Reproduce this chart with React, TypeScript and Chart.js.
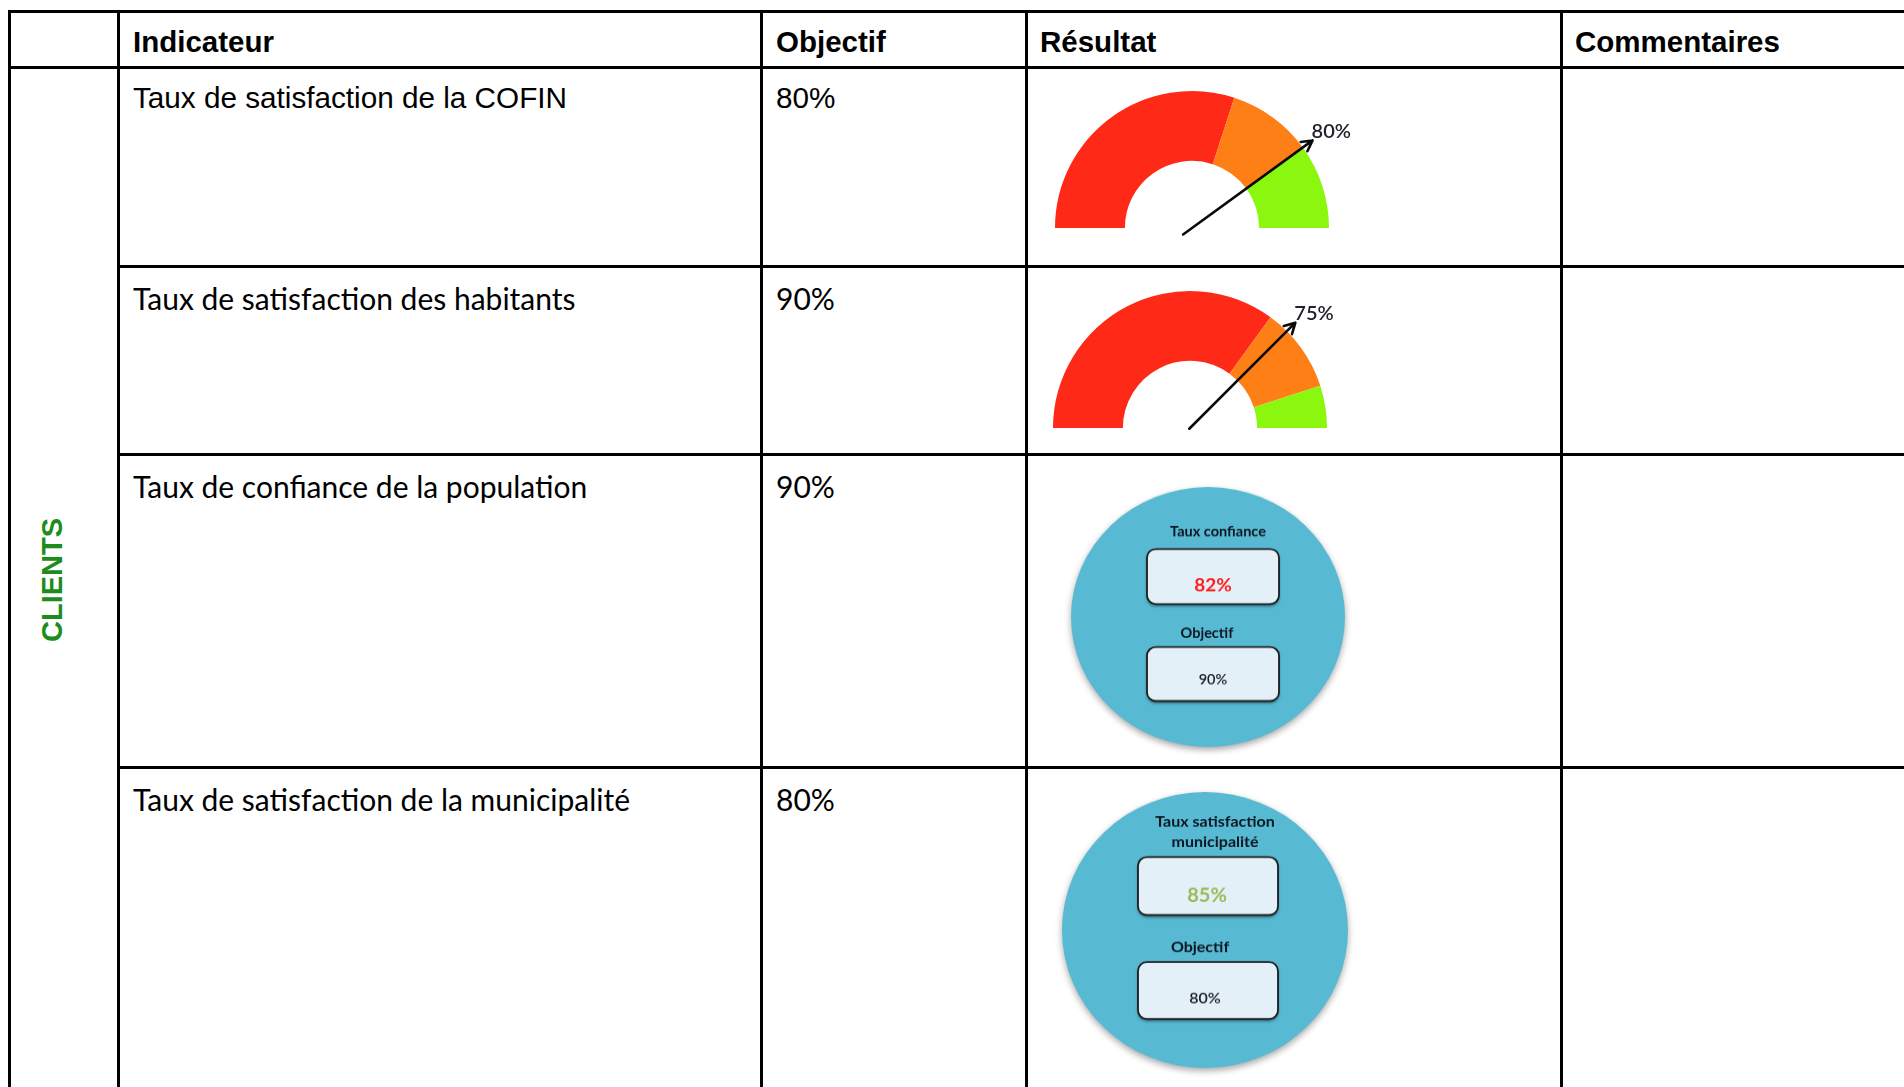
import React, { useEffect, useRef } from "react";
import { Chart, registerables } from "chart.js";

Chart.register(...registerables);

// ---- table content ----
const sectionLabel = "CLIENTS";
const columnHeaders = ["Indicateur", "Objectif", "Résultat", "Commentaires"];
const indicators = [
  "Taux de satisfaction de la COFIN",
  "Taux de satisfaction des habitants",
  "Taux de confiance de la population",
  "Taux de satisfaction de la municipalité",
];
const targets = [80, 90, 90, 80];

// ---- half gauges (rows 1 and 2): zone widths in %, needle value in % ----
const zoneNames = ["Rouge", "Orange", "Vert"];
const zoneColors = ["#fe2917", "#fd7f16", "#8bf60e"];
const gauge1Zones = [60, 20, 20];
const gauge2Zones = [70, 20, 10];
const gaugeResults = [80, 75];

// ---- KPI discs (rows 3 and 4) ----
const kpiTitles = [["Taux confiance"], ["Taux satisfaction", "municipalité"]];
const kpiResults = [82, 85];
const kpiTargets = [90, 80];
const kpiTargetLabel = "Objectif";
const kpiResultColors = ["#ff1d1d", "#9bbb59"];

const ARIAL = '"Liberation Sans", Arial, sans-serif';
const CALIBRI = 'Lato, "Open Sans", sans-serif';

type GaugeProps = { zones: number[]; value: number; cx: number; cy: number; tail: number };

function Gauge({ zones, value, cx, cy, tail }: GaugeProps) {
  const ref = useRef<HTMLCanvasElement | null>(null);
  const W = 380;
  const H = 220;
  const ox = 180;
  const oy = 175;
  const R = 137;

  useEffect(() => {
    const canvas = ref.current;
    if (!canvas) return;
    const needle = {
      id: "needle",
      afterDatasetsDraw(chart: any) {
        const arc = chart.getDatasetMeta(0).data[0];
        const { x, y, outerRadius } = arc.getProps(["x", "y", "outerRadius"], true);
        const total = zones.reduce((s, v) => s + v, 0);
        const a = Math.PI + (value / total) * Math.PI;
        const c = Math.cos(a);
        const s = Math.sin(a);
        const len = outerRadius + 12;
        const tx = x + len * c;
        const ty = y + len * s;
        const ctx = chart.ctx as CanvasRenderingContext2D;
        ctx.save();
        ctx.strokeStyle = "#0a0a0a";
        ctx.lineWidth = 2.6;
        ctx.lineCap = "round";
        ctx.lineJoin = "round";
        ctx.beginPath();
        ctx.moveTo(x - tail * c, y - tail * s);
        ctx.lineTo(tx, ty);
        const h = 12;
        const sp = 0.5;
        ctx.moveTo(tx - h * Math.cos(a - sp), ty - h * Math.sin(a - sp));
        ctx.lineTo(tx, ty);
        ctx.lineTo(tx - h * Math.cos(a + sp), ty - h * Math.sin(a + sp));
        ctx.stroke();
        ctx.font = `600 20px ${CALIBRI}`;
        ctx.fillStyle = "#22222c";
        ctx.textAlign = "left";
        ctx.textBaseline = "middle";
        ctx.fillText(`${value}%`, tx - 1, ty - 9);
        ctx.restore();
      },
    };
    const chart = new Chart(canvas, {
      type: "doughnut",
      data: {
        labels: zoneNames,
        datasets: [
          {
            data: zones,
            backgroundColor: zoneColors,
            borderWidth: 0,
            hoverOffset: 0,
          },
        ],
      },
      options: {
        animation: false,
        responsive: false,
        events: [],
        rotation: -90,
        circumference: 180,
        cutout: "49%",
        layout: { padding: { left: ox - R, right: W - ox - R, top: oy - R, bottom: H - oy } },
        plugins: { legend: { display: false }, tooltip: { enabled: false } },
      } as any,
      plugins: [needle],
    });
    return () => chart.destroy();
  }, []);

  return (
    <canvas
      ref={ref}
      width={W}
      height={H}
      style={{ position: "absolute", left: cx - ox, top: cy - oy, width: W, height: H }}
    />
  );
}

type DiscLayout = {
  titleSize: number;
  titleX: number;
  titleY: number[];
  boxX: [number, number];
  box1Y: [number, number];
  box2Y: [number, number];
  valueSize: number;
  value1: [number, number];
  labelY: number;
  labelX: number;
  value2: [number, number];
  value2Size: number;
};

type DiscProps = { idx: number; cx: number; cy: number; rx: number; ry: number; lay: DiscLayout };

function KpiDisc({ idx, cx, cy, rx, ry, lay }: DiscProps) {
  const ref = useRef<HTMLCanvasElement | null>(null);
  const pad = 14;
  const size = 2 * (rx + pad);
  const k = ry / rx;

  useEffect(() => {
    const canvas = ref.current;
    if (!canvas) return;
    const shadow = {
      id: "discShadow",
      beforeDatasetDraw(chart: any) {
        const ctx = chart.ctx as CanvasRenderingContext2D;
        ctx.save();
        ctx.shadowColor = "rgba(0,0,0,0.35)";
        ctx.shadowBlur = 7;
        ctx.shadowOffsetY = 3;
      },
      afterDatasetDraw(chart: any) {
        chart.ctx.restore();
      },
    };
    const panel = {
      id: "kpiPanel",
      afterDatasetsDraw(chart: any) {
        const arc = chart.getDatasetMeta(0).data[0];
        const { x, y } = arc.getProps(["x", "y"], true);
        const ctx = chart.ctx as CanvasRenderingContext2D;
        const Y = (v: number) => y + v / k;
        const box = (y0: number, y1: number) => {
          const bx = x + lay.boxX[0];
          const bw = lay.boxX[1] - lay.boxX[0];
          const by = Y(y0);
          const bh = (y1 - y0) / k;
          ctx.save();
          ctx.shadowColor = "rgba(0,0,0,0.55)";
          ctx.shadowBlur = 3;
          ctx.shadowOffsetY = 2;
          ctx.beginPath();
          ctx.roundRect(bx, by, bw, bh, 9);
          ctx.fillStyle = "#e3f0f8";
          ctx.fill();
          ctx.restore();
          ctx.beginPath();
          ctx.roundRect(bx, by, bw, bh, 9);
          ctx.lineWidth = 1.8;
          ctx.strokeStyle = "#1c1c1c";
          ctx.stroke();
        };
        ctx.save();
        ctx.textAlign = "center";
        ctx.textBaseline = "middle";
        ctx.fillStyle = "#0c1622";
        ctx.font = `bold ${lay.titleSize}px ${CALIBRI}`;
        kpiTitles[idx].forEach((t, i) => ctx.fillText(t, x + lay.titleX, Y(lay.titleY[i])));
        box(lay.box1Y[0], lay.box1Y[1]);
        box(lay.box2Y[0], lay.box2Y[1]);
        ctx.font = `bold ${lay.valueSize}px ${CALIBRI}`;
        ctx.fillStyle = kpiResultColors[idx];
        ctx.fillText(`${kpiResults[idx]}%`, x + lay.value1[0], Y(lay.value1[1]));
        ctx.fillStyle = "#0c1622";
        ctx.font = `bold ${lay.titleSize}px ${CALIBRI}`;
        ctx.fillText(kpiTargetLabel, x + lay.labelX, Y(lay.labelY));
        ctx.font = `600 ${lay.value2Size}px ${CALIBRI}`;
        ctx.fillStyle = "#1b1b2b";
        ctx.fillText(`${kpiTargets[idx]}%`, x + lay.value2[0], Y(lay.value2[1]));
        ctx.restore();
      },
    };
    const chart = new Chart(canvas, {
      type: "pie",
      data: {
        labels: [kpiTitles[idx].join(" ")],
        datasets: [
          {
            data: [kpiResults[idx]],
            backgroundColor: ["#57b9d2"],
            borderWidth: 0,
            hoverOffset: 0,
          },
        ],
      },
      options: {
        animation: false,
        responsive: false,
        events: [],
        layout: { padding: pad },
        plugins: { legend: { display: false }, tooltip: { enabled: false } },
      } as any,
      plugins: [shadow, panel],
    });
    return () => chart.destroy();
  }, []);

  return (
    <div
      style={{
        position: "absolute",
        left: cx - rx - pad,
        top: cy - size / 2,
        width: size,
        height: size,
        transform: `scaleY(${k})`,
        transformOrigin: "50% 50%",
      }}
    >
      <canvas ref={ref} width={size} height={size} style={{ width: size, height: size, display: "block" }} />
    </div>
  );
}

const LINE = 3;
const vLines = [8, 117, 760, 1025, 1560];
const colText = [133, 776, 1040, 1575];
const rowLineTops = [265, 453, 766];
const rowFonts = [ARIAL, CALIBRI, CALIBRI, CALIBRI];
const rowSizes = [29.7, 30, 30, 30];
const rowTextTops = [82.5, 283, 471, 784];

export default function App() {
  const line = (l: number, t: number, w: number, h: number, key: string) => (
    <div key={key} style={{ position: "absolute", left: l, top: t, width: w, height: h, background: "#000" }} />
  );
  const text = (
    s: string,
    l: number,
    t: number,
    font: string,
    size: number,
    bold: boolean,
    key: string
  ) => (
    <div
      key={key}
      style={{
        position: "absolute",
        left: l,
        top: t,
        fontFamily: font,
        fontSize: size,
        fontWeight: bold ? 700 : 400,
        lineHeight: 1,
        whiteSpace: "nowrap",
        color: "#000",
      }}
    >
      {s}
    </div>
  );

  return (
    <div
      style={{
        position: "absolute",
        left: 0,
        top: 0,
        width: 1904,
        height: 1087,
        background: "#fff",
        overflow: "hidden",
      }}
    >
      {line(vLines[0], 10, 1904 - vLines[0], LINE, "top")}
      {line(vLines[0], 66, 1904 - vLines[0], LINE, "head")}
      {rowLineTops.map((t, i) => line(vLines[1], t, 1904 - vLines[1], LINE, `r${i}`))}
      {vLines.map((x, i) => line(x, 10, LINE, 1087 - 10, `v${i}`))}

      {columnHeaders.map((h, i) => text(h, colText[i], 27, ARIAL, 29.5, true, `h${i}`))}
      {indicators.map((s, i) => text(s, colText[0], rowTextTops[i], rowFonts[i], rowSizes[i], false, `i${i}`))}
      {targets.map((v, i) => text(`${v}%`, colText[1], rowTextTops[i], rowFonts[i], rowSizes[i], false, `t${i}`))}

      <div
        style={{
          position: "absolute",
          left: 52,
          top: 580,
          transform: "translate(-50%, -50%) rotate(-90deg)",
          fontFamily: ARIAL,
          fontWeight: 700,
          fontSize: 29,
          lineHeight: 1,
          color: "#1c8c1c",
          whiteSpace: "nowrap",
        }}
      >
        {sectionLabel}
      </div>

      <Gauge zones={gauge1Zones} value={gaugeResults[0]} cx={1192} cy={228} tail={11} />
      <Gauge zones={gauge2Zones} value={gaugeResults[1]} cx={1190} cy={428} tail={1} />

      <KpiDisc
        idx={0}
        cx={1208}
        cy={617}
        rx={137}
        ry={130}
        lay={{
          titleSize: 14.5,
          titleX: 10,
          titleY: [-85],
          boxX: [-61, 71],
          box1Y: [-68, -13],
          box2Y: [30, 84],
          valueSize: 19,
          value1: [5, -31],
          labelX: -1,
          labelY: 16,
          value2: [5, 63],
          value2Size: 14.5,
        }}
      />
      <KpiDisc
        idx={1}
        cx={1205}
        cy={930}
        rx={143}
        ry={138}
        lay={{
          titleSize: 16,
          titleX: 10,
          titleY: [-108, -88],
          boxX: [-67, 73],
          box1Y: [-73, -15],
          box2Y: [32, 89],
          valueSize: 20,
          value1: [2, -34],
          labelX: -5,
          labelY: 17,
          value2: [0, 68],
          value2Size: 16,
        }}
      />
    </div>
  );
}
